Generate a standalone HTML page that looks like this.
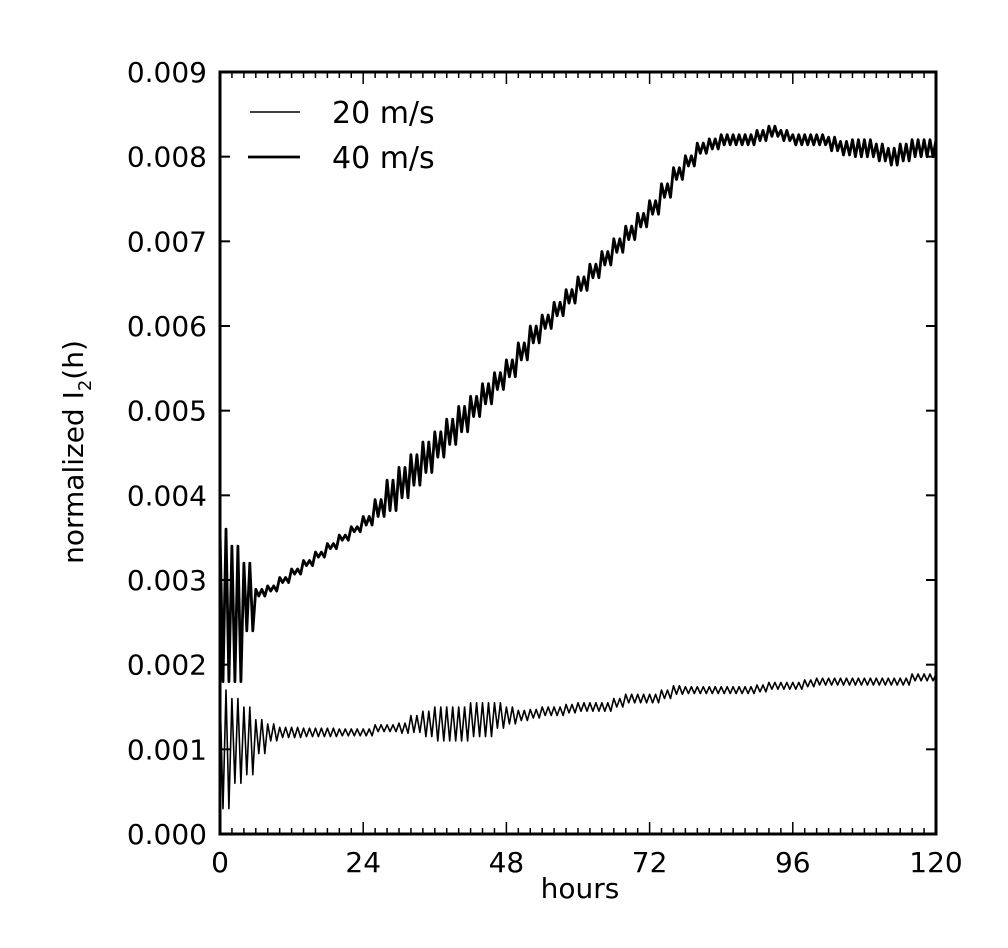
<!DOCTYPE html>
<html><head><meta charset="utf-8"><style>
body{margin:0;background:#fff;}
svg{display:block;font-family:"DejaVu Sans","Liberation Sans",sans-serif;}
</style></head><body>
<svg id="chart" width="1008" height="948" viewBox="0 0 1008 948">
<rect x="0" y="0" width="1008" height="948" fill="#fff"/>
<defs><clipPath id="clip"><rect x="220" y="72" width="716" height="762"/></clipPath></defs>
<g id="plot"></g>
</svg>
<script>
const hours = [0,2,4,6,8,10,12,14,16,18,20,22,24,26,28,30,32,34,36,38,40,42,44,46,48,50,52,54,56,58,60,62,64,66,68,70,72,74,76,78,80,82,84,86,88,90,92,94,96,98,100,102,104,106,108,110,112,114,116,118,120];
const v40 = [.0027,.0026,.0028,.00285,.0029,.0030,.0031,.0032,.0033,.0034,.0035,.0036,.0037,.00385,.0040,.00415,.0043,.00445,.0046,.00475,.0049,.00505,.0052,.00535,.0055,.0057,.0059,.00605,.0062,.00635,.0065,.00665,.0068,.00695,.0071,.00725,.0074,.0076,.0078,.00795,.0081,.00815,.0082,.0082,.0082,.00825,.0083,.00825,.0082,.0082,.0082,.00815,.0081,.0081,.0081,.00805,.0080,.00805,.0081,.0081,.0081];
const a40 = [.0009,.0008,.0004,.00004,.00003,.00003,.00003,.00003,.00003,.00003,.00003,.00003,.00005,.0001,.00018,.00018,.00018,.00018,.00015,.00015,.00015,.00012,.00012,.0001,.0001,.0001,.0001,.00008,.00008,.00008,.00008,.00008,.00008,.00008,.00008,.00008,.00008,.00008,.00007,.00006,.00006,.00006,.00006,.00006,.00006,.00006,.00006,.00006,.00006,.00006,.00006,.00008,.00008,.0001,.0001,.0001,.0001,.0001,.0001,.0001,.0001];
const v20 = [.0010,.0011,.0011,.00115,.0012,.0012,.0012,.0012,.0012,.0012,.0012,.0012,.0012,.00125,.00125,.00125,.0013,.0013,.0013,.0013,.0013,.00135,.00135,.0014,.0014,.0014,.00142,.00145,.00145,.00148,.0015,.0015,.0015,.00155,.0016,.0016,.0016,.00165,.0017,.0017,.0017,.0017,.0017,.0017,.0017,.00172,.00175,.00175,.00175,.00178,.0018,.0018,.0018,.0018,.0018,.0018,.0018,.0018,.00185,.00185,.00185];
const a20 = [.0007,.0005,.0004,.0002,.0001,.00006,.00006,.00005,.00005,.00005,.00004,.00004,.00004,.00004,.00004,.00006,.0001,.00015,.0002,.0002,.0002,.0002,.0002,.00015,.0001,.00006,.00005,.00005,.00005,.00005,.00005,.00005,.00005,.00005,.00005,.00005,.00005,.00005,.00005,.00004,.00004,.00004,.00004,.00004,.00004,.00004,.00004,.00004,.00004,.00004,.00004,.00004,.00004,.00004,.00004,.00004,.00004,.00004,.00004,.00004,.00004];
const xTicks = [0,24,48,72,96,120];
const yTicks = [0,.001,.002,.003,.004,.005,.006,.007,.008,.009];
const yLabels = ["0.000","0.001","0.002","0.003","0.004","0.005","0.006","0.007","0.008","0.009"];

const L=220,R=936,T=72,B=834;
const xs = h => L + h/120*(R-L);
const ys = v => B - v/0.009*(B-T);
const NS="http://www.w3.org/2000/svg";
const g=document.getElementById('plot');
function mk(tag,attrs){const e=document.createElementNS(NS,tag);for(const k in attrs)e.setAttribute(k,attrs[k]);g.appendChild(e);return e;}

function series(vals,amps,w,name){
  let d="";
  hours.forEach((h,i)=>{
    for(let k=0;k<2;k++){
      const hh=h+k;
      const hi=ys(vals[i]+amps[i]), lo=ys(Math.max(0,vals[i]-amps[i]));
      d+=((i||k)?"L":"M")+xs(hh).toFixed(1)+","+hi.toFixed(1)+"L"+xs(hh+0.5).toFixed(1)+","+lo.toFixed(1);
    }
  });
  const p=mk('path',{d:d,fill:'none',stroke:'#000','stroke-width':w,'stroke-linejoin':'round','clip-path':'url(#clip)'});
  
  
}
series(v20,a20,1.6,'series-20-ms');
series(v40,a40,2.8,'series-40-ms');

const frame=mk('rect',{x:L,y:T,width:R-L,height:B-T,fill:'none',stroke:'#000','stroke-width':3});



for(let h=0;h<=120;h+=2){
  const len=(h%24===0)?12:6;
  const t1=mk('line',{x1:xs(h),x2:xs(h),y1:B,y2:B-len,stroke:'#000','stroke-width':1.5});
  
  
  const t2=mk('line',{x1:xs(h),x2:xs(h),y1:T,y2:T+len,stroke:'#000','stroke-width':1.5});
  
  
}
xTicks.forEach(h=>{
  const t=mk('text',{x:xs(h),y:872,'font-size':28,'text-anchor':'middle'});
  t.textContent=h;
  
  
});
yTicks.forEach((v,i)=>{
  const t1=mk('line',{x1:L,x2:L+10,y1:ys(v),y2:ys(v),stroke:'#000','stroke-width':2});
  
  
  const t2=mk('line',{x1:R,x2:R-10,y1:ys(v),y2:ys(v),stroke:'#000','stroke-width':2});
  
  
  const t=mk('text',{x:207,y:ys(v)+10,'font-size':28,'text-anchor':'end'});
  t.textContent=yLabels[i];
  
  
});
const xt=mk('text',{x:580,y:898,'font-size':28,'text-anchor':'middle'});
xt.textContent='hours';


const yt=mk('text',{x:0,y:0,'font-size':28,'text-anchor':'middle',transform:'translate(83,452) rotate(-90)'});
yt.innerHTML='normalized I<tspan font-size="18" dy="8">2</tspan><tspan dy="-8">(h)</tspan>';



const l1=mk('line',{x1:250,x2:300,y1:112,y2:112,stroke:'#000','stroke-width':1.6});


const lt1=mk('text',{x:332,y:123,'font-size':30});
lt1.textContent='20 m/s';


const l2=mk('line',{x1:248,x2:300,y1:157,y2:157,stroke:'#000','stroke-width':2.8});


const lt2=mk('text',{x:332,y:168,'font-size':30});
lt2.textContent='40 m/s';


</script>
</body></html>
